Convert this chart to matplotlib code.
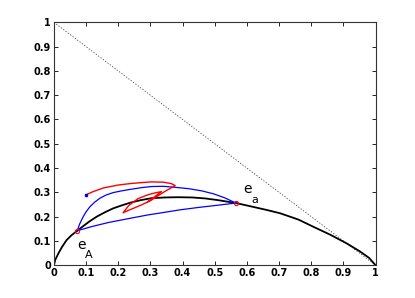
import matplotlib
matplotlib.use("Agg")
import matplotlib.pyplot as plt

# binodal curve (black)
bin_x = [0.0, 0.004, 0.0135, 0.025, 0.039, 0.055, 0.0725, 0.09, 0.11, 0.133, 0.16, 0.184,
         0.21, 0.236, 0.27, 0.303, 0.345, 0.386, 0.43, 0.47, 0.51, 0.566, 0.62, 0.66,
         0.703, 0.76, 0.807, 0.86, 0.91, 0.95, 0.98, 1.0]
bin_y = [0.0, 0.022, 0.048, 0.075, 0.103, 0.124, 0.142, 0.160, 0.180, 0.200, 0.219, 0.234,
         0.246, 0.257, 0.268, 0.276, 0.279, 0.280, 0.279, 0.275, 0.268, 0.256, 0.240, 0.228,
         0.214, 0.188, 0.158, 0.125, 0.090, 0.058, 0.030, 0.0]

# upper blue arc e_A -> e_a
up_x = [0.0725, 0.08, 0.091, 0.10, 0.112, 0.127, 0.143, 0.162, 0.184, 0.21, 0.236, 0.27,
        0.303, 0.34, 0.375, 0.42, 0.46, 0.496, 0.53, 0.566]
up_y = [0.142, 0.170, 0.200, 0.220, 0.241, 0.260, 0.276, 0.289, 0.299, 0.306, 0.312, 0.319,
        0.324, 0.325, 0.321, 0.315, 0.306, 0.294, 0.278, 0.256]

# lower blue chord e_A -> e_a
lo_x = [0.0725, 0.12, 0.17, 0.236, 0.292, 0.34, 0.392, 0.45, 0.496, 0.566]
lo_y = [0.142, 0.160, 0.176, 0.193, 0.207, 0.217, 0.228, 0.238, 0.245, 0.256]

# red path: arc, then drop into the lens loop
red_x = [0.0995, 0.12, 0.153, 0.199, 0.236, 0.27, 0.303, 0.34, 0.365, 0.377,
         0.34, 0.303, 0.275, 0.25, 0.23, 0.215,
         0.232, 0.261, 0.292, 0.315, 0.334, 0.31, 0.292]
red_y = [0.290, 0.302, 0.318, 0.330, 0.336, 0.340, 0.343, 0.342, 0.336, 0.328,
         0.300, 0.268, 0.250, 0.236, 0.225, 0.216,
         0.245, 0.274, 0.290, 0.298, 0.303, 0.279, 0.262]

eq_x = [0.0725, 0.566]
eq_y = [0.142, 0.256]

ticks = [0, 0.1, 0.2, 0.3, 0.4, 0.5, 0.6, 0.7, 0.8, 0.9, 1]
tick_labels = ["0", "0.1", "0.2", "0.3", "0.4", "0.5", "0.6", "0.7", "0.8", "0.9", "1"]

fig = plt.figure(figsize=(4.15, 2.98), dpi=100)
ax = fig.add_axes([0.13, 0.11, 0.775, 0.815])

ax.plot([0, 1], [1, 0], color="#444444", ls=(0, (1.5, 2)), lw=0.6)
ax.plot(bin_x, bin_y, color="black", lw=1.3)
ax.plot(up_x, up_y, color="blue", lw=0.9)
ax.plot(lo_x, lo_y, color="blue", lw=0.9)
ax.plot(red_x, red_y, color="red", lw=1.0)
ax.plot(red_x[0], red_y[0], "s", color="blue", ms=1.8)
ax.plot(eq_x, eq_y, "o", mfc="none", mec="red", ms=3, mew=0.8)

# labels: "e" with a dropped subscript, as MATLAB renders it
ax.text(0.085, 0.082, "e", fontsize=10, ha="center", va="center")
ax.text(0.109, 0.042, "A", fontsize=8, ha="center", va="center")
ax.text(0.601, 0.315, "e", fontsize=10, ha="center", va="center")
ax.text(0.624, 0.268, "a", fontsize=8, ha="center", va="center")

ax.set_xlim(0, 1)
ax.set_ylim(0, 1)
ax.set_xticks(ticks)
ax.set_yticks(ticks)
ax.set_xticklabels(tick_labels)
ax.set_yticklabels(tick_labels)
ax.tick_params(direction="in", top=True, right=True, length=3, width=0.6,
               labelsize=7, pad=2)
for lab in ax.get_xticklabels() + ax.get_yticklabels():
    lab.set_fontweight("bold")
for s in ax.spines.values():
    s.set_linewidth(0.8)
    s.set_color("#333333")

fig.savefig("out.png", dpi=100)
